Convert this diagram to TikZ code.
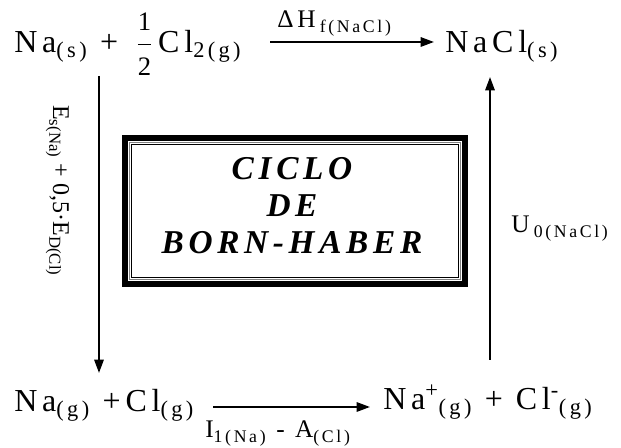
\documentclass[tikz,border=0pt]{standalone}
\usepackage{fontspec}
\setmainfont{Liberation Serif}
\newfontfamily\spaced[LetterSpace=15]{Liberation Serif}
\newfontfamily\titlefont[LetterSpace=14]{Liberation Serif}
\usetikzlibrary{arrows.meta,positioning}

\newcommand{\half}{$\displaystyle\frac{\mbox{\fontsize{20}{20}\selectfont 1}}{\mbox{\fontsize{20}{20}\selectfont 2}}$}

\tikzset{
  eqn/.style={anchor=base west, inner sep=0pt, font=\spaced\fontsize{24}{28}\selectfont},
  lbl/.style={anchor=base west, inner sep=0pt, font=\spaced\fontsize{19}{22}\selectfont},
  cyc/.style={-{Triangle[length=10pt,width=7pt]}, line width=1.5pt}
}

\begin{document}
\begin{tikzpicture}[x=0.75pt,y=-0.75pt]
	\useasboundingbox (0,0) rectangle (621,448);
	% estados del ciclo
	\node[eqn] (reac) at (14,53) {Na\textsubscript{(s)} + \,\half\,Cl\textsubscript{2(g)}};
	\node[eqn] (prod) at (445,53) {NaCl\textsubscript{(s)}};
	\node[eqn] (gas) at (14,412) {Na\textsubscript{(g)} +Cl\textsubscript{(g)}};
	\node[eqn] (ion) at (383,410) {Na\textsuperscript{+}\textsubscript{(g)} + Cl\textsuperscript{-}\textsubscript{(g)}};
	% flechas
	\coordinate (f1) at (270,42);  \coordinate (f2) at (434,42);
	\coordinate (s1) at (99,76);   \coordinate (s2) at (99,373);
	\coordinate (i1) at (213,407); \coordinate (i2) at (370,407);
	\coordinate (u1) at (490,360); \coordinate (u2) at (490,77);
	\draw[cyc] (f1) -- (f2);
	\draw[cyc] (s1) -- (s2);
	\draw[cyc] (i1) -- (i2);
	\draw[cyc] (u1) -- (u2);
	% etiquetas
	\node[lbl] (dh) at (277,28) {ΔH\,\textsubscript{f(NaCl)}};
	\node[lbl] (ia) at (205,438) {I\textsubscript{1(Na)} - A\textsubscript{(Cl)}};
	\node[lbl] (u0) at (511,233) {U\,\textsubscript{0(NaCl)}};
	\node[lbl, rotate=-90, font=\fontsize{18}{20}\selectfont] (es) at (53,105) {E\textsubscript{s(Na)} + 0,5·E\textsubscript{D(Cl)}};
	% recuadro central
	\draw[line width=4.5pt] (125,138) rectangle (465,284);
	\draw[gray, line width=0.8pt] (129.5,142.5) rectangle (460.5,279.5);
	\draw[line width=0.8pt] (131.5,144.5) rectangle (458.5,277.5);
	\node[align=center, font=\titlefont\bfseries\itshape\fontsize{25}{27.75}\selectfont] (titulo) at (292,206) {CICLO\\DE\\BORN-HABER};
\end{tikzpicture}
\end{document}
